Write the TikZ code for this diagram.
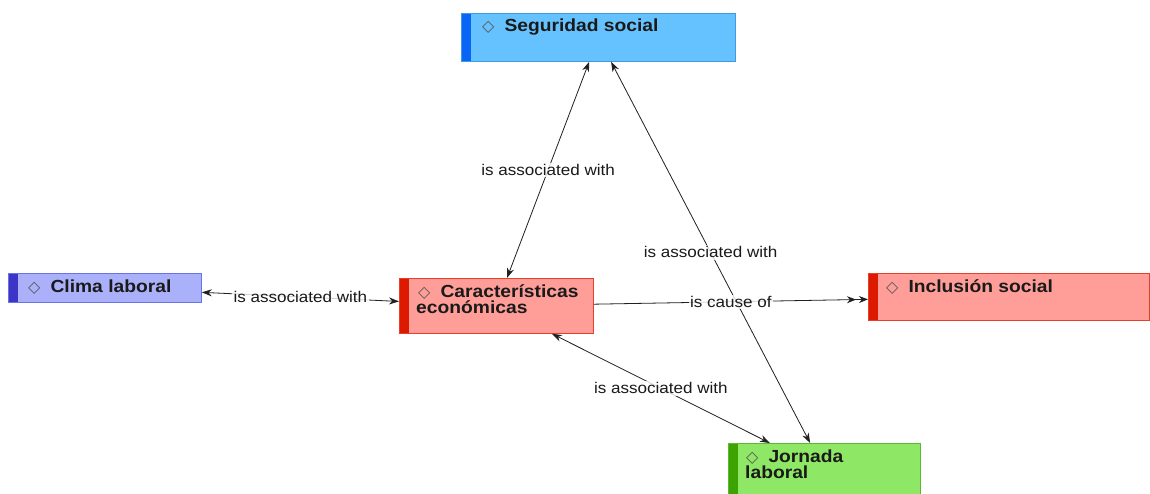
\documentclass[tikz,border=0pt]{standalone}
\usepackage{fontspec}
\setmainfont{Liberation Sans}[FakeStretch=1.1]
\newfontfamily\djsym{DejaVu Sans}
\usetikzlibrary{arrows.meta}
\definecolor{segfill}{HTML}{66C2FF}
\definecolor{segdraw}{HTML}{3C9BE6}
\definecolor{segstripe}{HTML}{0A64F5}
\definecolor{clifill}{HTML}{AAB0FA}
\definecolor{clidraw}{HTML}{6A72E6}
\definecolor{clistripe}{HTML}{3B36C8}
\definecolor{redfill}{HTML}{FF9E98}
\definecolor{reddraw}{HTML}{E4402E}
\definecolor{redstripe}{HTML}{DD1A00}
\definecolor{grnfill}{HTML}{8EE866}
\definecolor{grndraw}{HTML}{5CB832}
\definecolor{grnstripe}{HTML}{3DA300}
\definecolor{ink}{HTML}{1A1A1A}
\definecolor{linecol}{HTML}{202020}
\newcommand{\dmd}{{\djsym\fontsize{16}{16}\selectfont\color{black!65}◇}\hspace{10pt}}
\begin{document}
\begin{tikzpicture}[x=1pt,y=-1pt,
  conceptbox/.style n args={3}{draw=#1, fill=#2, line width=0.8pt, anchor=north west, inner sep=0pt,
    path picture={\fill[#3] (path picture bounding box.north west) rectangle ([xshift=10pt]path picture bounding box.south west);}},
  title/.style={anchor=base west, inner sep=0pt, text=ink, font=\bfseries\fontsize{17.5}{17.5}\selectfont},
  rel/.style={font=\fontsize{15.5}{17}\selectfont, text=ink, fill=white, fill opacity=0.8, text opacity=1, inner sep=1.5pt},
  conn/.style={draw=linecol, line width=0.8pt},
  both/.style={conn, {Stealth[length=10pt,width=7pt]}-{Stealth[length=10pt,width=7pt]}},
  one/.style={conn, -{Stealth[length=9pt,width=7pt,sep=3pt]Stealth[length=9pt,width=7pt]}}
]
\useasboundingbox (0,0) rectangle (1150,494);
\fill[white] (0,0) rectangle (1150,494);

\node[conceptbox={segdraw}{segfill}{segstripe}, minimum width=274pt, minimum height=48pt] (seg) at (461,13) {};
\node[conceptbox={clidraw}{clifill}{clistripe}, minimum width=193pt, minimum height=29pt] (cli) at (8,273) {};
\node[conceptbox={reddraw}{redfill}{redstripe}, minimum width=194pt, minimum height=55pt] (car) at (399,278) {};
\node[conceptbox={reddraw}{redfill}{redstripe}, minimum width=281pt, minimum height=47pt] (inc) at (868,273) {};
\node[conceptbox={grndraw}{grnfill}{grnstripe}, minimum width=192pt, minimum height=54pt] (jor) at (728,443) {};

\node[title] (segt) at (482,32) {\dmd Seguridad social};
\node[title] (clit) at (28,292) {\dmd Clima laboral};
\node[title] (cart1) at (418,297) {\dmd Características};
\node[title] (cart2) at (416,313) {económicas};
\node[title] (inct) at (886,292) {\dmd Inclusión social};
\node[title] (jort1) at (746,462) {\dmd Jornada};
\node[title] (jort2) at (745,478) {laboral};

\draw[both] (seg) -- node[rel] (l1) {is associated with} (car);
\draw[both] (seg) -- node[rel] (l2) {is associated with} (jor);
\draw[both] (cli) -- node[rel] (l3) {is associated with} (car);
\draw[one] (car) -- node[rel] (l4) {is cause of} (inc);
\draw[both] (car) -- node[rel] (l5) {is associated with} (jor);
\end{tikzpicture}
\end{document}
